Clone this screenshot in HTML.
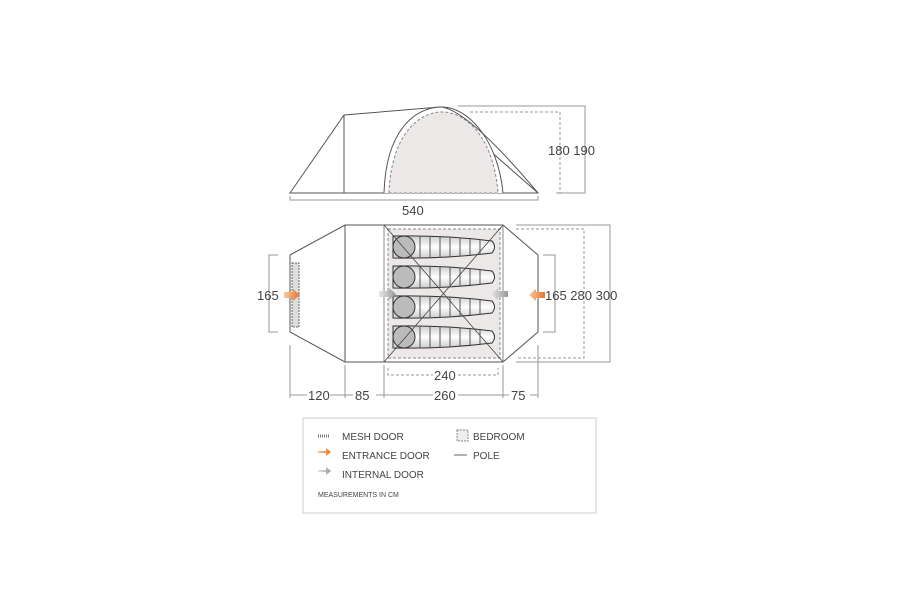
<!DOCTYPE html><html><head><style>body{margin:0;background:#fff}svg{display:block}text{font-family:"Liberation Sans",sans-serif;fill:#444}</style></head><body>
<svg width="900" height="600" viewBox="0 0 900 600">
<defs>
<linearGradient id="bag" x1="0" y1="0" x2="0" y2="1"><stop offset="0" stop-color="#ccc"/><stop offset=".5" stop-color="#fff"/><stop offset="1" stop-color="#ccc"/></linearGradient>
<linearGradient id="og" x1="0" x2="1"><stop offset="0" stop-color="#f8c9a0"/><stop offset="1" stop-color="#e8742a"/></linearGradient>
<linearGradient id="gg" x1="0" x2="1"><stop offset="0" stop-color="#e6e6e6"/><stop offset="1" stop-color="#999"/></linearGradient>
</defs>
<g stroke="#555" fill="none" stroke-width="1">
<path d="M290 193 L344 115 L440 107 L538 193 Z" fill="#fff"/>
<line x1="344" y1="115" x2="344" y2="193"/>
<path d="M384 193 C386 130 415 107 442 107 C468 107 498 140 503 193" fill="#fff"/>
<path d="M389 193 C391 136 418 112 442 112 C468 112 494 140 498 193 Z" fill="#ece8e7" stroke="#888" stroke-dasharray="3,2"/>
<path d="M442 107 Q470 112 538 193"/>
<path d="M458 106 L585 106 L585 193 L556 193" stroke="#999"/>
<path d="M470 112 L560 112 L560 193" stroke="#999" stroke-dasharray="3,2"/>
<path d="M290 196 L290 200 L538 200 L538 196" stroke="#999"/>
<path d="M290 255 L345 225 L503 225 L538 255 L538 332 L503 362 L345 362 L290 332 Z" fill="#fff"/>
<line x1="345" y1="225" x2="345" y2="362"/>
<rect x="388" y="229" width="112" height="129" fill="#ece8e7" stroke="#888" stroke-dasharray="3,2"/>
<line x1="384" y1="225" x2="384" y2="362" stroke="#888"/>
<line x1="503" y1="225" x2="503" y2="362" stroke="#888"/>
</g>
<g stroke="#333" stroke-width="1">
<g transform="translate(0,247)"><path d="M393 -11 Q445 -12 492 -6 Q497 0 492 6 Q445 12 393 11 Z" fill="url(#bag)"/><circle cx="404" cy="0" r="11" fill="#bbb"/><path d="M420 -11V11M430 -11V11M440 -11V11M450 -10V10M460 -9V9M470 -8V8M480 -7V7" stroke="#555"/></g>
<g transform="translate(0,277)"><path d="M393 -11 Q445 -12 492 -6 Q497 0 492 6 Q445 12 393 11 Z" fill="url(#bag)"/><circle cx="404" cy="0" r="11" fill="#bbb"/><path d="M420 -11V11M430 -11V11M440 -11V11M450 -10V10M460 -9V9M470 -8V8M480 -7V7" stroke="#555"/></g>
<g transform="translate(0,307)"><path d="M393 -11 Q445 -12 492 -6 Q497 0 492 6 Q445 12 393 11 Z" fill="url(#bag)"/><circle cx="404" cy="0" r="11" fill="#bbb"/><path d="M420 -11V11M430 -11V11M440 -11V11M450 -10V10M460 -9V9M470 -8V8M480 -7V7" stroke="#555"/></g>
<g transform="translate(0,337)"><path d="M393 -11 Q445 -12 492 -6 Q497 0 492 6 Q445 12 393 11 Z" fill="url(#bag)"/><circle cx="404" cy="0" r="11" fill="#bbb"/><path d="M420 -11V11M430 -11V11M440 -11V11M450 -10V10M460 -9V9M470 -8V8M480 -7V7" stroke="#555"/></g>
</g>
<g stroke="#444" stroke-width="0.8"><line x1="384" y1="225" x2="503" y2="362"/><line x1="503" y1="225" x2="384" y2="362"/></g>
<rect x="292" y="263" width="7" height="64" fill="#ddd" stroke="#666" stroke-dasharray="2,1"/>
<path d="M284 292h9v-3l7 6-7 6v-3h-9z" fill="url(#og)"/>
<path d="M545 292h-9v-3l-7 6 7 6v-3h9z" fill="url(#og)"/>
<path d="M379 291h10v-3l7 6-7 6v-3h-10z" fill="url(#gg)"/>
<path d="M508 291h-10v-3l-7 6 7 6v-3h10z" fill="url(#gg)"/>
<g stroke="#999" fill="none">
<path d="M278 255H269V332H278"/>
<path d="M543 255H555V332H543"/>
<path d="M516 229H584V358H516" stroke-dasharray="3,2"/>
<path d="M516 225H610V362H516"/>
<path d="M290 345V398M345 365V398M384 365V398M503 365V398M538 345V398"/>
<path d="M290 395H307M330 395H353M376 395H433M458 395H509M530 395H538"/>
<path d="M388 368V375H433M458 375H498V368" stroke-dasharray="3,2"/>
<rect x="303" y="418" width="293" height="95" stroke="#ccc"/>
<rect x="457" y="430" width="11" height="11" fill="#eee" stroke="#888" stroke-dasharray="2,1"/>
<line x1="454" y1="455" x2="467" y2="455" stroke="#666"/>
</g>
<g font-size="13">
<text x="548" y="155">180 190</text>
<text x="402" y="215">540</text>
<text x="257" y="300">165</text>
<text x="545" y="300">165  280 300</text>
<text x="434" y="380">240</text>
<text x="308" y="400">120</text>
<text x="355" y="400">85</text>
<text x="434" y="400">260</text>
<text x="511" y="400">75</text>
</g>
<path d="M318 436h12" stroke="#777" stroke-dasharray="1,1" stroke-width="3"/>
<path d="M318 451h8v-3l5 4-5 4v-3h-8z" fill="url(#og)"/>
<path d="M318 470h8v-3l5 4-5 4v-3h-8z" fill="url(#gg)"/>
<g font-size="10">
<text x="342" y="440">MESH DOOR</text>
<text x="342" y="459">ENTRANCE DOOR</text>
<text x="342" y="478">INTERNAL DOOR</text>
<text x="473" y="440">BEDROOM</text>
<text x="473" y="459">POLE</text>
<text x="318" y="497" font-size="7">MEASUREMENTS IN CM</text>
</g>
</svg></body></html>
